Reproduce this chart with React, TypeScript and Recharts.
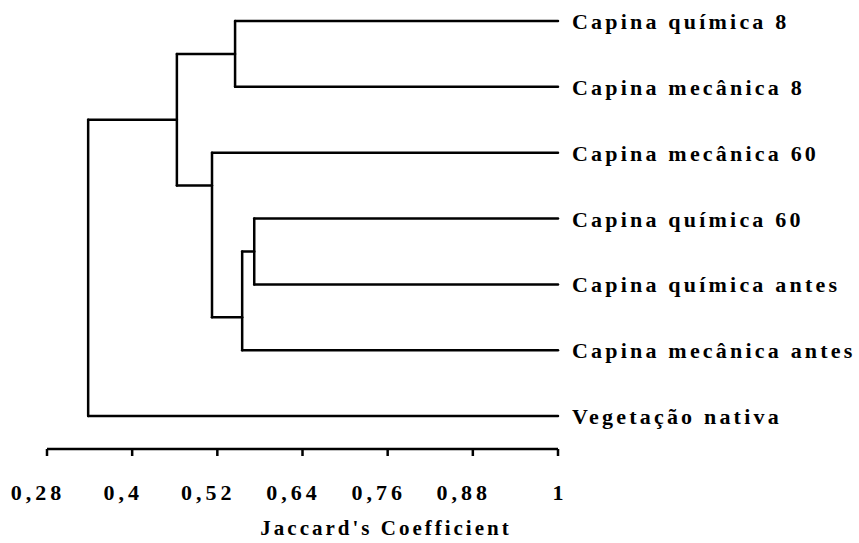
import React from "react";
import { ComposedChart, XAxis, YAxis, ReferenceLine, Label } from "recharts";

// Leaves (top to bottom)
const leafLabels = [
  "Capina química 8",
  "Capina mecânica 8",
  "Capina mecânica 60",
  "Capina química 60",
  "Capina química antes",
  "Capina mecânica antes",
  "Vegetação nativa",
];
const leafCoef = 1;

// Merges: cluster ids 0-6 are leaves, 7.. are merges in this order
const mergeLeft = [3, 7, 0, 2, 9, 11];
const mergeRight = [4, 5, 1, 8, 10, 6];
const mergeCoef = [0.572, 0.555, 0.545, 0.5125, 0.463, 0.338];

const xTicks = [0.28, 0.4, 0.52, 0.64, 0.76, 0.88, 1];
const xTickLabels = ["0,28", "0,4", "0,52", "0,64", "0,76", "0,88", "1"];
const axisTitle = "Jaccard's Coefficient";

const FONT = "'Liberation Serif', 'Times New Roman', serif";

type Cluster = { min: number; max: number; pos: number; h: number };
type Seg = { x1: number; y1: number; x2: number; y2: number };

function buildSegments(): Seg[] {
  const clusters: Cluster[] = leafLabels.map((_, i) => ({ min: i, max: i, pos: i, h: leafCoef }));
  const segs: Seg[] = [];
  mergeLeft.forEach((l, k) => {
    const r = mergeRight[k];
    const h = mergeCoef[k];
    const L = clusters[l];
    const R = clusters[r];
    segs.push({ x1: L.h, y1: L.pos, x2: h, y2: L.pos });
    segs.push({ x1: R.h, y1: R.pos, x2: h, y2: R.pos });
    segs.push({ x1: h, y1: L.pos, x2: h, y2: R.pos });
    clusters.push({ min: L.min, max: R.max, pos: (L.max + R.min) / 2, h });
  });
  return segs;
}

const segments = buildSegments();
const leafData = leafLabels.map((name, i) => ({ name, pos: i, coef: leafCoef }));

const XTick = (props: any) => {
  const { x, y, payload } = props;
  const idx = xTicks.indexOf(payload.value);
  const label = idx >= 0 ? xTickLabels[idx] : String(payload.value);
  const dx = label.length > 1 ? -9 : 2;
  return (
    <text
      x={x + dx}
      y={y + 42}
      textAnchor="middle"
      fontFamily={FONT}
      fontWeight="bold"
      fontSize={22}
      letterSpacing={4}
      fill="#000"
    >
      {label}
    </text>
  );
};

const YTick = (props: any) => {
  const { x, y, payload } = props;
  const label = leafLabels[payload.value] ?? "";
  return (
    <text
      x={x}
      y={y + 8}
      textAnchor="start"
      fontFamily={FONT}
      fontWeight="bold"
      fontSize={22}
      letterSpacing={3.2}
      fill="#000"
    >
      {label}
    </text>
  );
};

const TitleLabel = (props: any) => {
  const vb = props.viewBox || { x: 0, y: 0, width: 0, height: 0 };
  return (
    <text
      x={vb.x + 339}
      y={vb.y + 86}
      textAnchor="middle"
      fontFamily={FONT}
      fontWeight="bold"
      fontSize={21}
      letterSpacing={3}
      fill="#000"
    >
      {axisTitle}
    </text>
  );
};

export default function App() {
  return (
    <div style={{ position: "absolute", left: 0, top: 0, background: "#fff" }}>
      <ComposedChart
        width={859}
        height={543}
        data={leafData}
        margin={{ top: 21, right: 11, bottom: 0, left: 47 }}
      >
        <XAxis
          dataKey="coef"
          type="number"
          domain={[0.28, 1]}
          ticks={xTicks}
          interval={0}
          allowDataOverflow
          height={94}
          tickSize={7}
          axisLine={{ stroke: "#000", strokeWidth: 2.5 }}
          tickLine={{ stroke: "#000", strokeWidth: 2.5 }}
          tick={<XTick />}
        >
          <Label content={<TitleLabel />} />
        </XAxis>
        <YAxis
          dataKey="pos"
          type="number"
          orientation="right"
          domain={[0, 6.5]}
          reversed
          ticks={[0, 1, 2, 3, 4, 5, 6]}
          interval={0}
          allowDataOverflow
          width={290}
          axisLine={false}
          tickLine={false}
          tickSize={0}
          tickMargin={14}
          tick={<YTick />}
        />
        {segments.map((s, i) => (
          <ReferenceLine
            key={i}
            segment={[
              { x: s.x1, y: s.y1 },
              { x: s.x2, y: s.y2 },
            ]}
            stroke="#000"
            strokeWidth={2.5}
            strokeLinecap="round"
            ifOverflow="visible"
          />
        ))}
      </ComposedChart>
    </div>
  );
}
